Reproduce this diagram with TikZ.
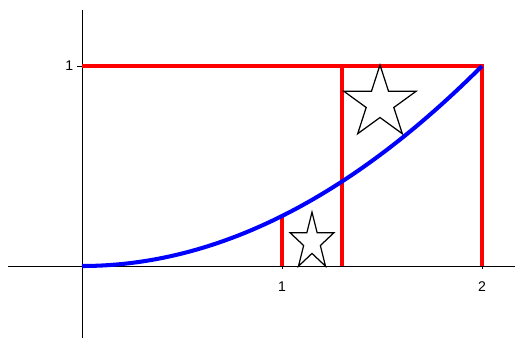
\documentclass[tikz,border=0pt]{standalone}
\usepackage{fontspec}
\setmainfont{Liberation Sans}
\usetikzlibrary{shapes.geometric}
\tikzstyle{axis} = [black, line width=0.45pt]
\tikzstyle{bar} = [red, line width=2.3pt]
\tikzstyle{graph} = [blue, line width=2.3pt]
\tikzstyle{mark star} = [star, star points=5, star point ratio=2.618, draw, line width=0.7pt, inner sep=0pt]

\begin{document}
\begin{tikzpicture}[x=4cm, y=4cm, font=\footnotesize]
	\useasboundingbox (-0.41,-0.37) rectangle (2.165,1.33);
	% axes
	\draw[axis] (-0.37,0) -- (2.165,0);
	\draw[axis] (0,-0.36) -- (0,1.28);
	\draw[axis] (0,1) -- (-0.025,1) node[left=1pt, inner sep=1pt] {1};
	\foreach \t in {1,2}
		\draw[axis] (\t,0) -- (\t,-0.015) node[below=6pt, inner sep=1pt] {\t};
	% key points
	\coordinate (O) at (0,0);
	\coordinate (A) at (1,0);
	\coordinate (B) at (1.3,0);
	\coordinate (C) at (2,0);
	\coordinate (Atop) at (1,0.25);
	\coordinate (Btop) at (1.3,1);
	\coordinate (Ctop) at (2,1);
	\coordinate (Otop) at (0,1);
	% rectangles
	\draw[bar] (Otop) -- (Ctop) -- (C);
	\draw[bar] (B) -- (Btop);
	\draw[bar] (A) -- (Atop);
	% curve
	\draw[graph] plot[domain=0:2, samples=60] (\x, {\x*\x/4});
	% stars
	\node[mark star, minimum size=1.52cm] (big) at (1.49,0.815) {};
	\node[mark star, minimum size=0.92cm, yscale=1.3] (small) at (1.15,0.12) {};
\end{tikzpicture}
\end{document}
